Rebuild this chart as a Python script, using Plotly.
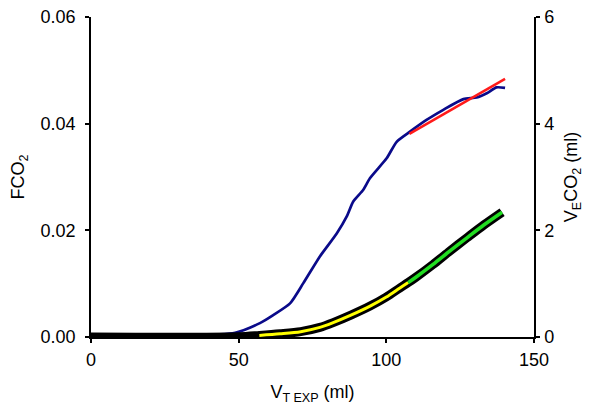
import plotly.graph_objects as go

# FCO2 (left axis) trace, blue
fco2_x = [0, 48.8, 57.2, 61.7, 67.4, 71.9, 77.5, 83.2, 86.6, 88.8, 92.2, 94.5, 100.1,
          103.5, 108, 113.6, 119.3, 126.1, 130.6, 134, 137.3, 140.2]
fco2_y = [0, 0.0008, 0.0026, 0.0041, 0.0063, 0.0101, 0.0151, 0.0194, 0.0226, 0.0254,
          0.0276, 0.0298, 0.0335, 0.0366, 0.0385, 0.0407, 0.0426, 0.0446, 0.0449,
          0.0457, 0.0468, 0.0467]

# Linear fit of phase III (red)
fit_x = [107.8, 140.2]
fit_y = [0.0381, 0.0484]

# Cumulative expired CO2 volume (right axis)
ve_x = [0, 50, 57, 64, 71, 77.5, 82, 88, 94.5, 100, 104.6, 107.4, 110, 115.8, 121,
        127.3, 133, 139.2]
ve_y = [0, 0.005, 0.03, 0.06, 0.1, 0.18, 0.27, 0.41, 0.58, 0.75, 0.92, 1.02, 1.12,
        1.36, 1.59, 1.86, 2.1, 2.34]

yellow_start, green_start = 57, 107.4

yel_x = [x for x in ve_x if yellow_start <= x <= green_start]
yel_y = [y for x, y in zip(ve_x, ve_y) if yellow_start <= x <= green_start]
grn_x = [x for x in ve_x if x >= green_start]
grn_y = [y for x, y in zip(ve_x, ve_y) if x >= green_start]

FONT = "Liberation Sans, Arial, sans-serif"

fig = go.Figure()
fig.add_trace(go.Scatter(x=fco2_x, y=fco2_y, mode="lines",
                         line=dict(color="#0a0a8a", width=2.7, shape="spline", smoothing=0.6),
                         yaxis="y", showlegend=False))
fig.add_trace(go.Scatter(x=fit_x, y=fit_y, mode="lines",
                         line=dict(color="#ff1a1a", width=2.5),
                         yaxis="y", showlegend=False))
fig.add_trace(go.Scatter(x=ve_x, y=ve_y, mode="lines",
                         line=dict(color="black", width=9, shape="spline", smoothing=0.8),
                         yaxis="y2", showlegend=False))
fig.add_trace(go.Scatter(x=yel_x, y=yel_y, mode="lines",
                         line=dict(color="#ffff00", width=3, shape="spline", smoothing=0.8),
                         yaxis="y2", showlegend=False))
fig.add_trace(go.Scatter(x=grn_x, y=grn_y, mode="lines",
                         line=dict(color="#22dd22", width=3.5, shape="spline", smoothing=0.8),
                         yaxis="y2", showlegend=False))

axis_common = dict(showgrid=False, zeroline=False, showline=True, linecolor="black",
                   linewidth=1.5, ticks="outside", ticklen=4, tickwidth=1.5,
                   automargin=False, ticklabeloverflow="allow",
                   tickcolor="black", tickfont=dict(family=FONT, size=18, color="black"))

fig.update_layout(
    width=600, height=413,
    margin=dict(l=83, r=74, t=9, b=84),
    paper_bgcolor="white", plot_bgcolor="white",
    font=dict(family=FONT, size=18, color="black"),
    xaxis=dict(range=[0, 150], tickvals=[0, 50, 100, 150], ticklabelstandoff=2,
               title=dict(text="V<sub>T EXP</sub> (ml)", font=dict(family=FONT, size=18), standoff=16),
               **axis_common),
    yaxis=dict(range=[0, 0.06], tickvals=[0, 0.02, 0.04, 0.06], tickformat=".2f",
               ticklabelstandoff=6,
               title=dict(text="FCO<sub>2</sub>", font=dict(family=FONT, size=18), standoff=18),
               **axis_common),
    yaxis2=dict(range=[0, 6], tickvals=[0, 2, 4, 6], overlaying="y", side="right",
                ticklabelstandoff=1,
                title=dict(text="V<sub>E</sub>CO<sub>2</sub> (ml)", font=dict(family=FONT, size=18), standoff=11),
                **axis_common),
)

fig.write_html("out.html")
